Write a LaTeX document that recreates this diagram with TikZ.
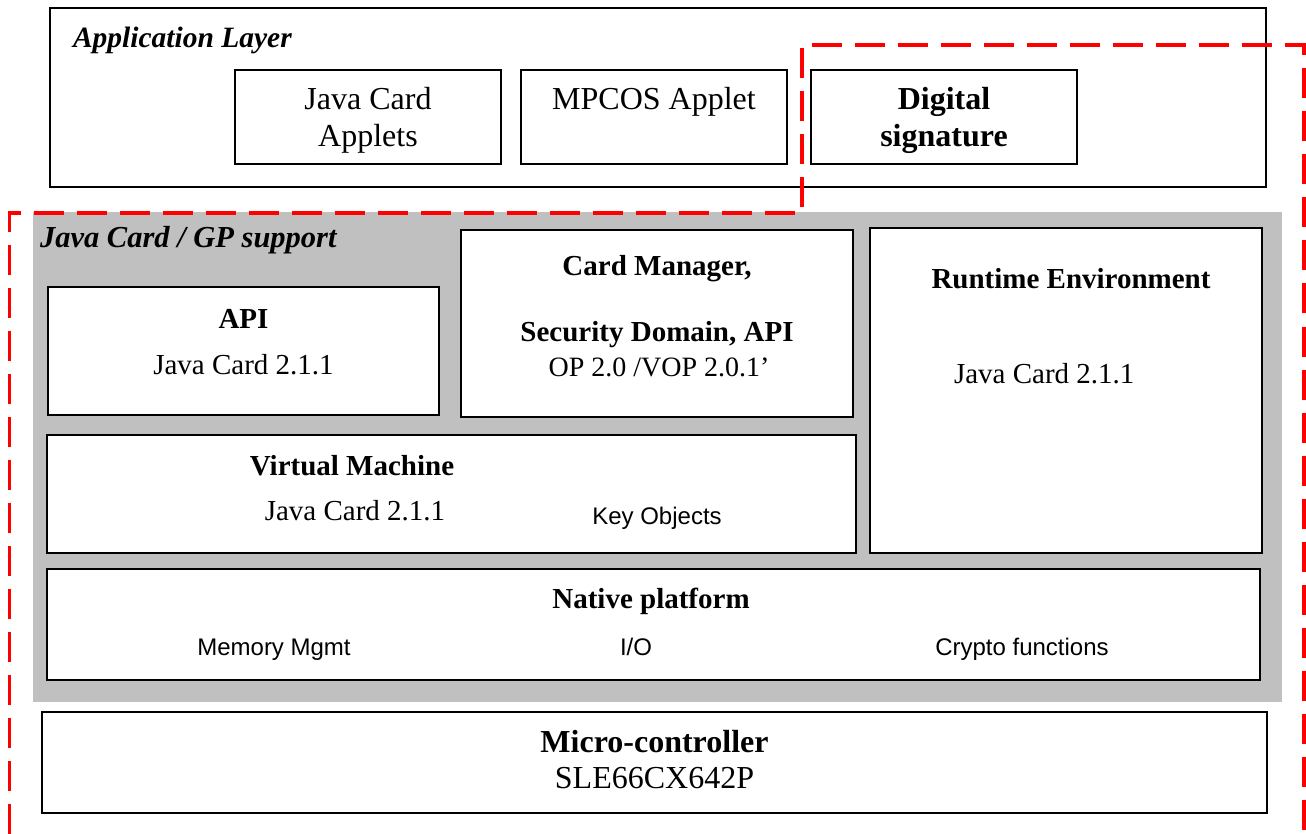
\documentclass[tikz,border=0pt]{standalone}
\usepackage{fontspec}
\setmainfont{Liberation Serif}
\setsansfont{Liberation Sans}
\definecolor{panelgray}{HTML}{C0C0C0}
\definecolor{dashred}{HTML}{FF0000}
\tikzset{
  box/.style={draw=black, line width=2pt, fill=white, inner sep=0pt},
  graypanel/.style={fill=panelgray, draw=none, inner sep=0pt},
  txt/.style={anchor=base, inner sep=0pt, outer sep=0pt},
  txtw/.style={anchor=base west, inner sep=0pt, outer sep=0pt},
  reddash/.style={draw=dashred, line width=3.5pt, dash pattern=on 30pt off 13pt},
  big/.style={font=\fontsize{32}{38}\selectfont},
  bigb/.style={font=\fontsize{32}{38}\selectfont\bfseries},
  med/.style={font=\fontsize{29}{34}\selectfont},
  medb/.style={font=\fontsize{29}{34}\selectfont\bfseries},
  medbi/.style={font=\fontsize{29.5}{34}\selectfont\bfseries\itshape},
  gpbi/.style={font=\fontsize{30.5}{34}\selectfont\bfseries\itshape},
  small/.style={font=\fontsize{28}{32}\selectfont},
  sans/.style={font=\fontsize{24}{28}\selectfont\sffamily},
}
\begin{document}
\begin{tikzpicture}[x=1pt,y=-1pt]
\useasboundingbox (0,0) rectangle (1306,834);
% application layer
\node[box, line width=1.8pt, minimum width=1216pt, minimum height=179pt] (app) at (658,97.5) {};
\node[txtw, medbi] (applbl) at (73,48) {Application Layer};
\node[box, line width=1.8pt, minimum width=266pt, minimum height=94pt] (jc) at (368,117) {};
\node[txt, big] (jc1) at (368,110) {Java Card};
\node[txt, big] (jc2) at (368,147) {Applets};
\node[box, line width=1.8pt, minimum width=266pt, minimum height=94pt] (mpcos) at (654,117) {};
\node[txt, big] (mp1) at (654,110) {MPCOS Applet};
\node[box, line width=1.8pt, minimum width=266pt, minimum height=94pt] (dig) at (944,117) {};
\node[txt, bigb] (dg1) at (944,110) {Digital};
\node[txt, bigb] (dg2) at (944,147) {signature};
% gray panel
\node[graypanel, minimum width=1249pt, minimum height=490pt] (gp) at (657.5,457) {};
\node[txtw, gpbi] (gplbl) at (40,248) {Java Card / GP support};
% API
\node[box, minimum width=391pt, minimum height=128pt] (api) at (243.5,351) {};
\node[txt, medb] (api1) at (243.5,328) {API};
\node[txt, med] (api2) at (243.5,374) {Java Card 2.1.1};
% Card manager
\node[box, minimum width=392pt, minimum height=187pt] (cm) at (657,323.5) {};
\node[txt, medb] (cm1) at (657,276) {Card Manager,};
\node[txt, medb] (cm2) at (657,341) {Security Domain, API};
\node[txt, small] (cm3) at (659,376) {OP 2.0 /VOP 2.0.1’};
% Runtime
\node[box, minimum width=392pt, minimum height=325pt] (rt) at (1066,390.5) {};
\node[txt, medb] (rt1) at (1071,288) {Runtime Environment};
\node[txtw, med] (rt2) at (954,383) {Java Card 2.1.1};
% Virtual machine
\node[box, minimum width=809pt, minimum height=118pt] (vm) at (451.5,494) {};
\node[txt, medb] (vm1) at (352,475) {Virtual Machine};
\node[txt, med] (vm2) at (355,520) {Java Card 2.1.1};
\node[txt, sans] (vm3) at (657,524) {Key Objects};
% Native platform
\node[box, minimum width=1213pt, minimum height=111pt] (np) at (653.5,624.5) {};
\node[txt, medb] (np1) at (651,608) {Native platform};
\node[txt, sans] (np2) at (274,655) {Memory Mgmt};
\node[txt, sans] (np3) at (636,655) {I/O};
\node[txt, sans] (np4) at (1022,655) {Crypto functions};
% Micro-controller
\node[box, minimum width=1225pt, minimum height=101pt] (mc) at (654.5,762.5) {};
\node[txt, bigb] (mc1) at (654.5,752) {Micro-controller};
\node[txt, big] (mc2) at (654.5,788) {SLE66CX642P};
% red dashed boundary
\coordinate (r1) at (9.5,834);
\coordinate (r2) at (9.5,213);
\coordinate (r3) at (802,213);
\coordinate (r4) at (802,45);
\coordinate (r5) at (1304,45);
\coordinate (r6) at (1304,834);
\draw[reddash] (r1) -- (r2) -- (r3) -- (r4) -- (r5) -- (r6);
\end{tikzpicture}
\end{document}
